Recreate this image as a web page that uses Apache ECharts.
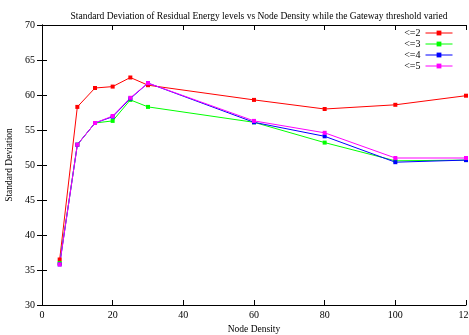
<!DOCTYPE html>
<html><head><meta charset="utf-8">
<script src="https://cdn.jsdelivr.net/npm/echarts@6/dist/echarts.min.js"></script>
<style>html,body{margin:0;padding:0;background:#fff}#c{width:469px;height:335px}</style>
</head><body><div id="c"></div>
<script>
const nodeDensity = [5, 10, 15, 20, 25, 30, 60, 80, 100, 120];
const le2 = [36.5, 58.3, 61.0, 61.2, 62.5, 61.4, 59.3, 58.0, 58.6, 59.9];
const le3 = [36.0, 52.9, 56.0, 56.3, 59.3, 58.3, 56.1, 53.2, 50.6, 50.7];
const le4 = [35.8, 52.9, 56.0, 56.9, 59.5, 61.7, 56.1, 54.1, 50.4, 50.7];
const le5 = [35.8, 52.9, 56.0, 57.0, 59.6, 61.7, 56.3, 54.6, 51.0, 51.0];
const seriesNames = ['<=2', '<=3', '<=4', '<=5'];
const colors = ['#ff0000', '#00ff00', '#0000ff', '#ff00ff'];
const font = '"Liberation Serif", "DejaVu Serif", serif';

const chart = echarts.init(document.getElementById('c'));
const allData = [le2, le3, le4, le5];
const tickStyle = {show: true, inside: true, length: 5, lineStyle: {color: '#000', width: 1}};
chart.setOption({
  animation: false,
  title: {text: 'Standard Deviation of Residual Energy levels vs Node Density while the Gateway threshold varied',
    left: 254, textAlign: 'center', top: 6,
    textStyle: {fontFamily: font, fontSize: 9.5, fontWeight: 'normal', color: '#000'}},
  grid: {left: 42, right: 3, top: 25, bottom: 30, containLabel: false, outerBoundsMode: 'none'},
  legend: {orient: 'vertical', right: 16, top: 28, padding: 0, align: 'right', itemWidth: 27, itemHeight: 6, itemGap: 1,
    lineStyle: {width: 1},
    textStyle: {fontFamily: font, fontSize: 10, lineHeight: 10, color: '#000', padding: [0, 0, 0, 0]},
    data: seriesNames},
  xAxis: [{type: 'value', min: 0, max: 120, interval: 20,
    name: 'Node Density', nameLocation: 'middle', nameGap: 17,
    nameTextStyle: {fontFamily: font, fontSize: 9.5, color: '#000'},
    axisLine: {show: true, lineStyle: {color: '#000', width: 1}},
    axisTick: tickStyle, splitLine: {show: false},
    axisLabel: {fontFamily: font, fontSize: 10, color: '#000', margin: 5}},
   {type: 'value', position: 'top', min: 0, max: 120, interval: 20,
    axisLine: {show: true, lineStyle: {color: '#000', width: 1}},
    axisTick: tickStyle, splitLine: {show: false}, axisLabel: {show: false}}],
  yAxis: [{type: 'value', min: 30, max: 70, interval: 5,
    name: 'Standard Deviation', nameLocation: 'middle', nameGap: 27, nameRotate: 90,
    nameTextStyle: {fontFamily: font, fontSize: 9.5, color: '#000'},
    axisLine: {show: true, lineStyle: {color: '#000', width: 1}},
    axisTick: tickStyle, splitLine: {show: false},
    axisLabel: {fontFamily: font, fontSize: 10, color: '#000', margin: 7}},
   {type: 'value', position: 'right', min: 30, max: 70, interval: 5,
    axisLine: {show: true, lineStyle: {color: '#000', width: 1}},
    axisTick: tickStyle, splitLine: {show: false}, axisLabel: {show: false}}],
  series: seriesNames.map((n, i) => ({
    name: n, type: 'line', xAxisIndex: 0, yAxisIndex: 0,
    data: nodeDensity.map((x, j) => [x, allData[i][j]]),
    symbol: 'rect', symbolSize: 4, showSymbol: true,
    lineStyle: {color: colors[i], width: 1},
    itemStyle: {color: colors[i]}
  }))
});
</script></body></html>
